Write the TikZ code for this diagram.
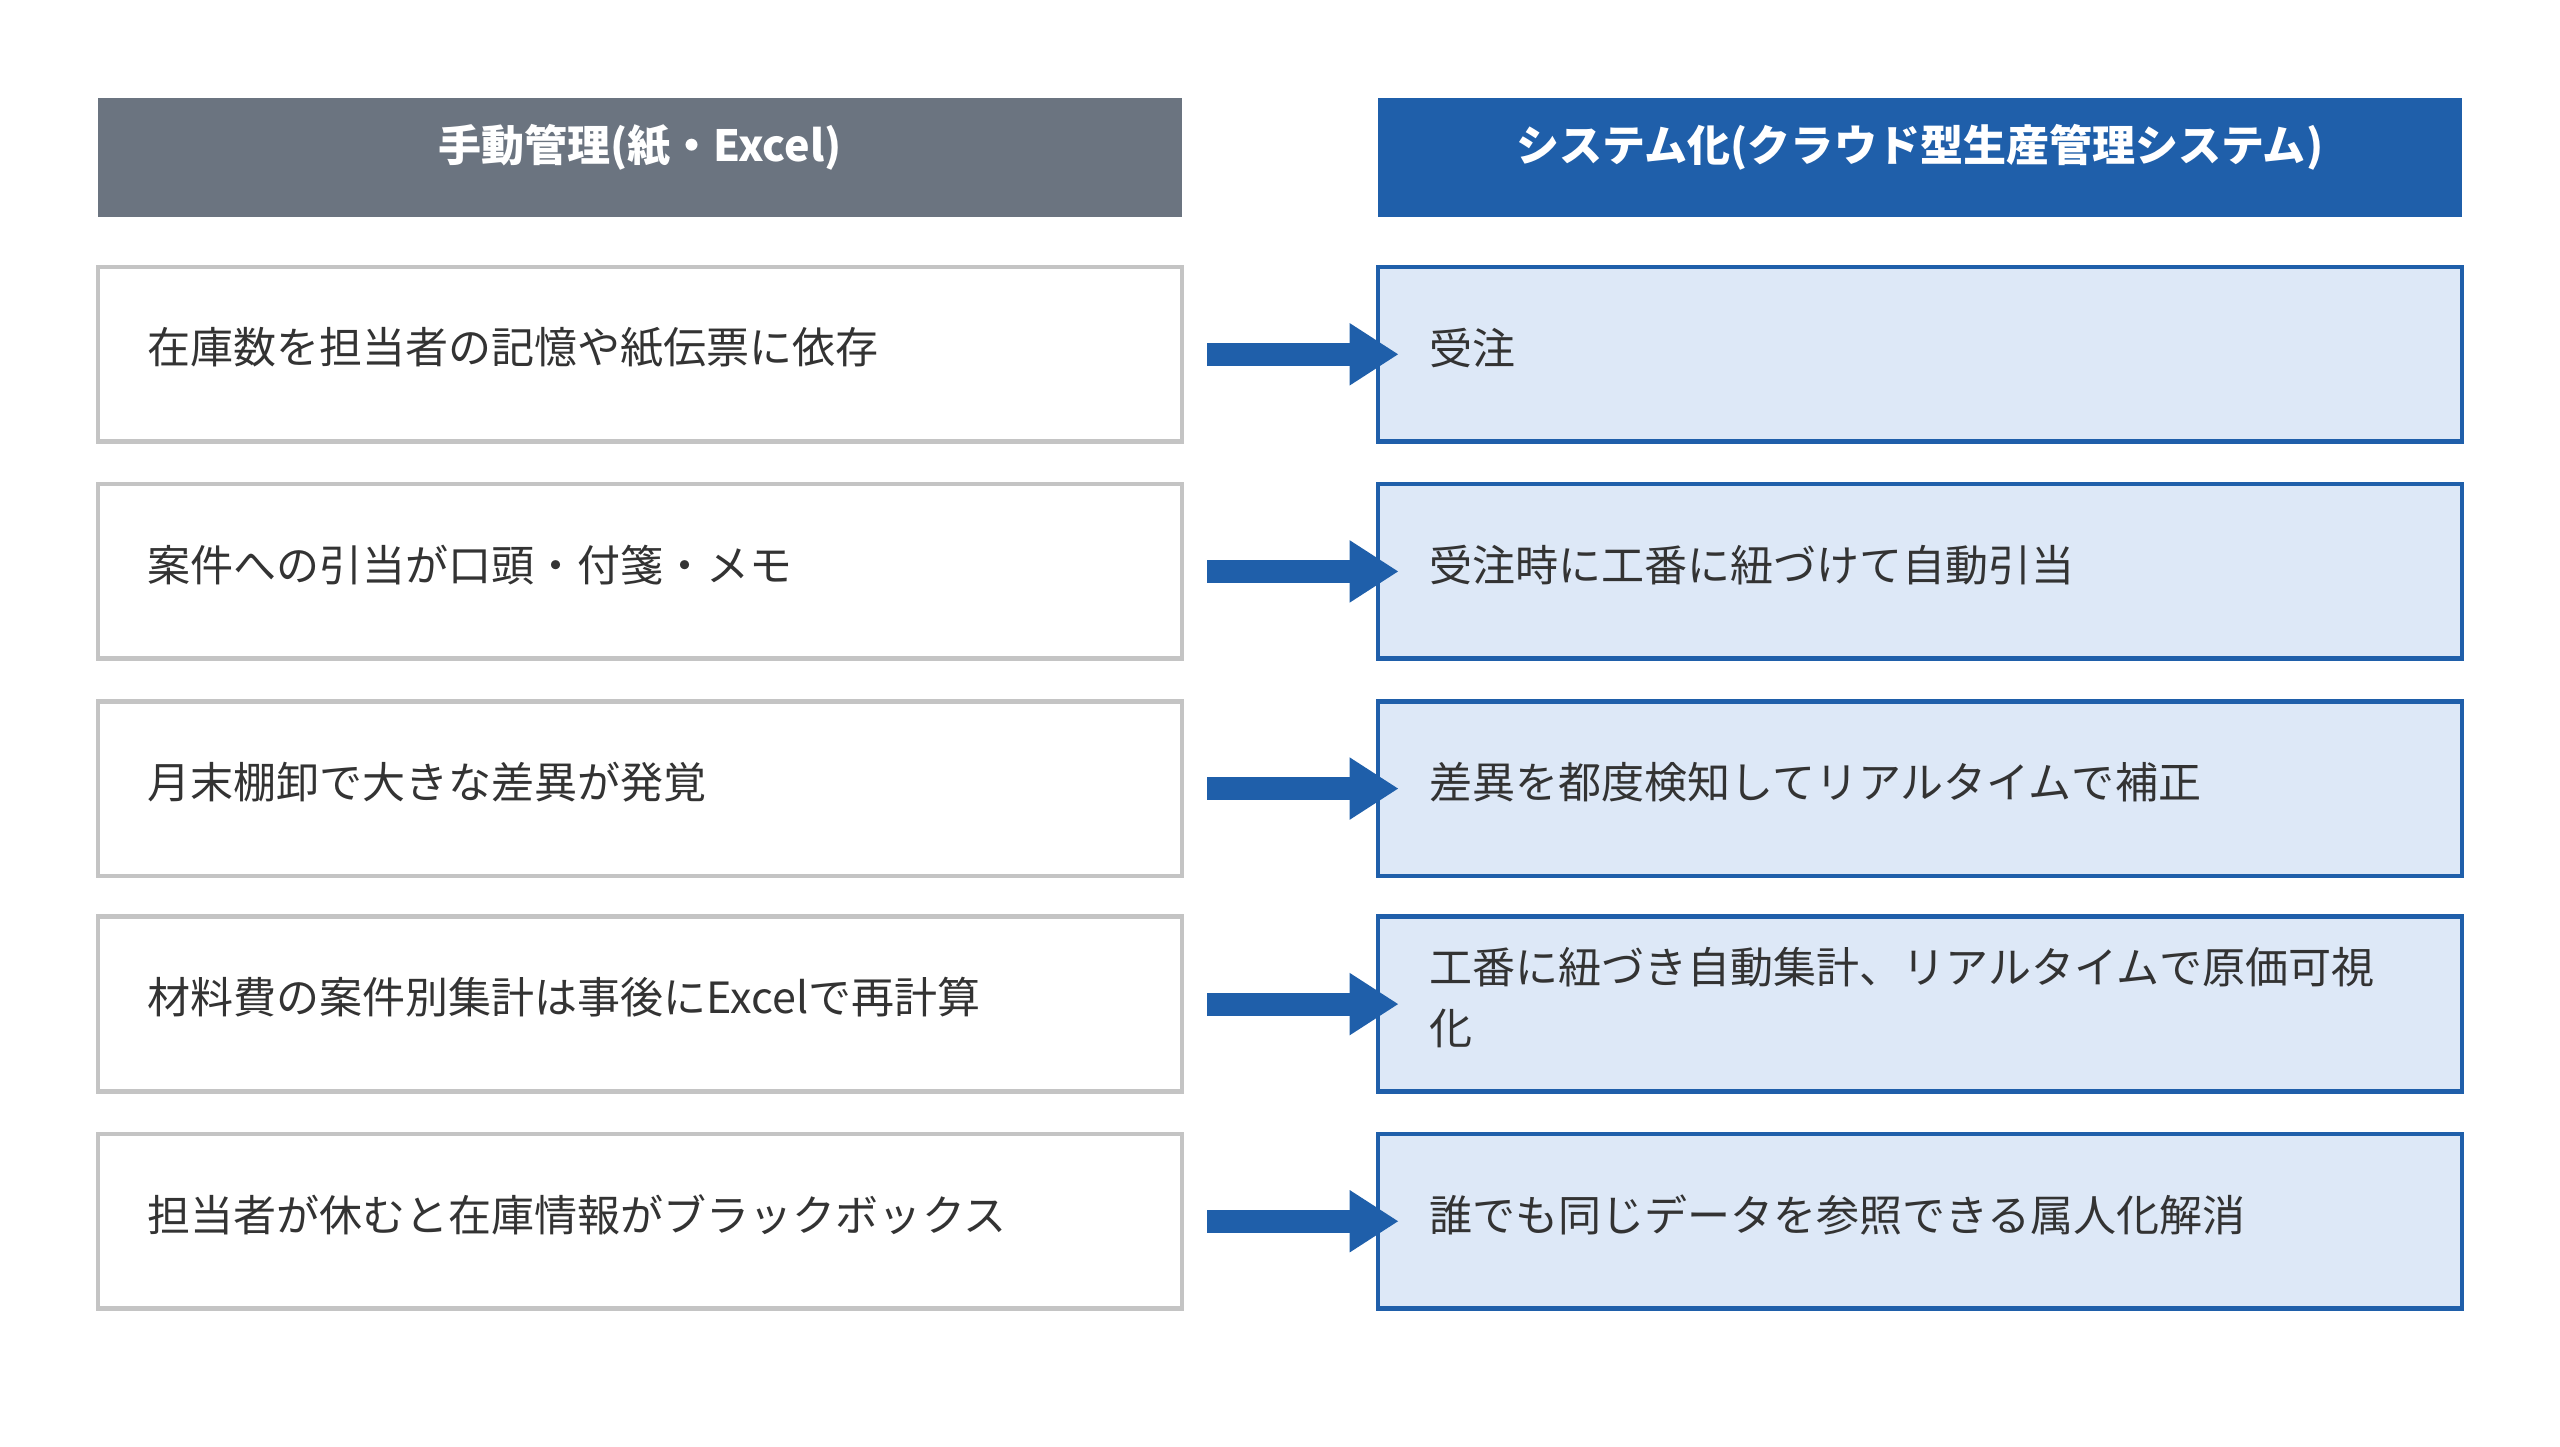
\documentclass[tikz,border=0pt]{standalone}
\usepackage{fontspec}
\setmainfont{Noto Sans CJK JP}
\usetikzlibrary{arrows.meta}
\definecolor{hgray}{HTML}{6B7480}
\definecolor{hblue}{HTML}{1F5FAA}
\definecolor{rfill}{HTML}{DDE8F7}
\definecolor{lborder}{HTML}{C4C4C4}
\definecolor{txt}{HTML}{333333}
\begin{document}
\begin{tikzpicture}[x=0.02cm,y=-0.02cm,
  hdr/.style={minimum width=13.28cm,minimum height=1.46cm,inner sep=0,text=white,font=\fontsize{15}{18}\selectfont\bfseries},
  lbox/.style={draw=lborder,line width=1.6pt,fill=white,minimum width=13.28cm,minimum height=2.14cm,inner sep=0},
  rbox/.style={draw=hblue,line width=1.6pt,fill=rfill,minimum width=13.28cm,minimum height=2.14cm,inner sep=0},
  tx/.style={anchor=west,text=txt,font=\fontsize{15}{21}\selectfont,align=left,inner sep=0},
  arr/.style={draw=hblue,line width=0.28cm,-{Triangle[length=0.6cm,width=0.72cm]},shorten <=0.28cm,shorten >=-0.28cm}]
\useasboundingbox (0,0) rectangle (1568,886);
\node[hdr,fill=hgray] (hl) at (392,96.5) {};
\node[hdr,fill=hblue] (hr) at (1176,96.5) {};
\node[text=white,font=\fontsize{15}{18}\selectfont\bfseries] (hlt) at (392,90) {手動管理(紙・Excel)};
\node[text=white,font=\fontsize{15}{18}\selectfont\bfseries] (hrt) at (1176,90) {システム化(クラウド型生産管理システム)};
\foreach \i/\y/\a/\b in {1/217/在庫数を担当者の記憶や紙伝票に依存/受注/出庫/入庫を即時データで反映,
  2/350/案件への引当が口頭・付箋・メモ/受注時に工番に紐づけて自動引当,
  3/483/月末棚卸で大きな差異が発覚/差異を都度検知してリアルタイムで補正,
  4/615/材料費の案件別集計は事後にExcelで再計算/{工番に紐づき自動集計、リアルタイムで原価可視\\化},
  5/748/担当者が休むと在庫情報がブラックボックス/誰でも同じデータを参照できる属人化解消}{
  \node[lbox] (l\i) at (392,\y) {};
  \node[rbox] (r\i) at (1176,\y) {};
  \node[tx] (lt\i) at (90,\y-4) {\a};
  \node[tx] (rt\i) at (875,\y-4) {\b};
  \draw[arr] (l\i.east) -- (r\i.west);
}
\end{tikzpicture}
\end{document}
